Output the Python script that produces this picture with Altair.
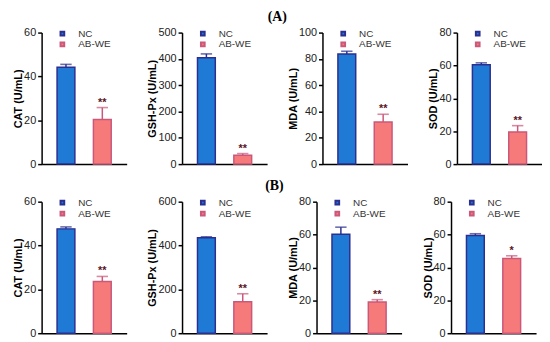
import altair as alt
import pandas as pd

groups = ["NC", "AB-WE"]

# Row A
labels_A = ["CAT (U/mL)", "GSH-Px (U/mL)", "MDA (U/mL)", "SOD (U/mL)"]
ymax_A = [60, 500, 100, 80]
ticks_A = [[0, 20, 40, 60], [0, 100, 200, 300, 400, 500], [0, 20, 40, 60, 80, 100], [0, 20, 40, 60, 80]]
nc_A = [44.2, 404, 83.8, 60.4]
nc_err_A = [1.3, 15, 2.0, 1.2]
ab_A = [20.3, 34, 32.0, 19.6]
ab_err_A = [5.5, 6, 5.9, 3.8]
star_A = ["**", "**", "**", "**"]

# Row B
labels_B = ["CAT (U/mL)", "GSH-Px (U/mL)", "MDA (U/mL)", "SOD (U/mL)"]
ymax_B = [60, 600, 80, 80]
ticks_B = [[0, 20, 40, 60], [0, 200, 400, 600], [0, 20, 40, 60, 80], [0, 20, 40, 60, 80]]
nc_B = [47.6, 436, 60.2, 59.5]
nc_err_B = [0.9, 4, 4.3, 1.0]
ab_B = [23.6, 143, 19.0, 45.5]
ab_err_B = [2.3, 37, 1.4, 1.6]
star_B = ["**", "**", "**", "*"]

fill_colors = ["#1f7ad6", "#f77a7a"]
stroke_colors = ["#2b2f8f", "#c9587a"]
star_color = "#5a1426"

W, H = 86, 133


def panel(label, ymax, ticks, nc, nce, ab, abe, star):
    df = pd.DataFrame({
        "group": groups,
        "value": [nc, ab],
        "top": [nc + nce, ab + abe],
        "star": ["", star],
    })
    xenc = alt.X("group:N", sort=groups,
                 scale=alt.Scale(paddingInner=0.5, paddingOuter=0.42),
                 axis=alt.Axis(labels=False, ticks=False, title=None,
                               domainColor="black", domainWidth=1.5))
    yscale = alt.Scale(domain=[0, ymax], nice=False, zero=True)
    yaxis = alt.Axis(title=label, values=ticks, tickCount=len(ticks), grid=False,
                     labelOverlap=False,
                     domainColor="black", domainWidth=1.5,
                     tickColor="black", tickWidth=1.5, tickSize=4,
                     labelFontSize=11, labelColor="#222", labelFont="Liberation Sans",
                     labelPadding=2,
                     titleFontSize=11, titleFontWeight="bold", titleFont="Liberation Sans",
                     titleColor="black", titlePadding=0)
    leg = alt.Legend(title=None, orient="none", legendX=16, legendY=-4,
                     symbolType="square", symbolSize=14, symbolStrokeWidth=2,
                     labelFontSize=10, labelFont="Liberation Sans", labelColor="#333",
                     rowPadding=-8, labelOffset=11)
    fill = alt.Fill("group:N", scale=alt.Scale(domain=groups, range=fill_colors), legend=leg)
    stroke = alt.Stroke("group:N", scale=alt.Scale(domain=groups, range=stroke_colors), legend=leg)
    base = alt.Chart(df)
    bars = base.mark_bar(size=18, strokeWidth=1.5).encode(
        x=xenc,
        y=alt.Y("value:Q", scale=yscale, axis=yaxis, title=label),
        fill=fill, stroke=stroke,
    )
    rule = base.mark_rule(strokeWidth=1.5).encode(
        x=xenc, y=alt.Y("value:Q", scale=yscale, axis=yaxis, title=label),
        y2="top:Q", stroke=stroke)
    cap = base.mark_tick(filled=False, thickness=0.1, size=10, strokeWidth=1.5).encode(
        x=xenc, y=alt.Y("top:Q", scale=yscale, axis=yaxis, title=label), stroke=stroke)
    txt = base.mark_text(dy=-5, fontSize=11, fontWeight="bold", color=star_color,
                         font="Liberation Sans").encode(
        x=xenc, y=alt.Y("top:Q", scale=yscale, axis=yaxis, title=label), text="star:N")
    return alt.layer(bars, rule, cap, txt).properties(width=W, height=H)


def row(title, labels, ymax, ticks, nc, nce, ab, abe, star):
    panels = [panel(labels[i], ymax[i], ticks[i], nc[i], nce[i], ab[i], abe[i], star[i])
              for i in range(4)]
    return alt.hconcat(*panels, spacing=20).resolve_scale(
        fill="independent", stroke="independent", y="independent", x="independent"
    ).resolve_legend(fill="independent", stroke="independent").properties(
        title=alt.TitleParams(title, font="Liberation Serif", fontSize=14,
                              fontWeight="bold", anchor="middle", offset=3, color="black"))


rowA = row("(A)", labels_A, ymax_A, ticks_A, nc_A, nc_err_A, ab_A, ab_err_A, star_A)
rowB = row("(B)", labels_B, ymax_B, ticks_B, nc_B, nc_err_B, ab_B, ab_err_B, star_B)

chart = alt.vconcat(rowA, rowB, spacing=10).resolve_scale(
    fill="independent", stroke="independent", y="independent", x="independent"
).resolve_legend(fill="independent", stroke="independent").properties(
    padding={"left": 4, "top": 0, "right": 0, "bottom": 0}, background="white"
).configure_view(stroke=None)

chart.save("out.html", embed_options={"renderer": "svg", "actions": False})
